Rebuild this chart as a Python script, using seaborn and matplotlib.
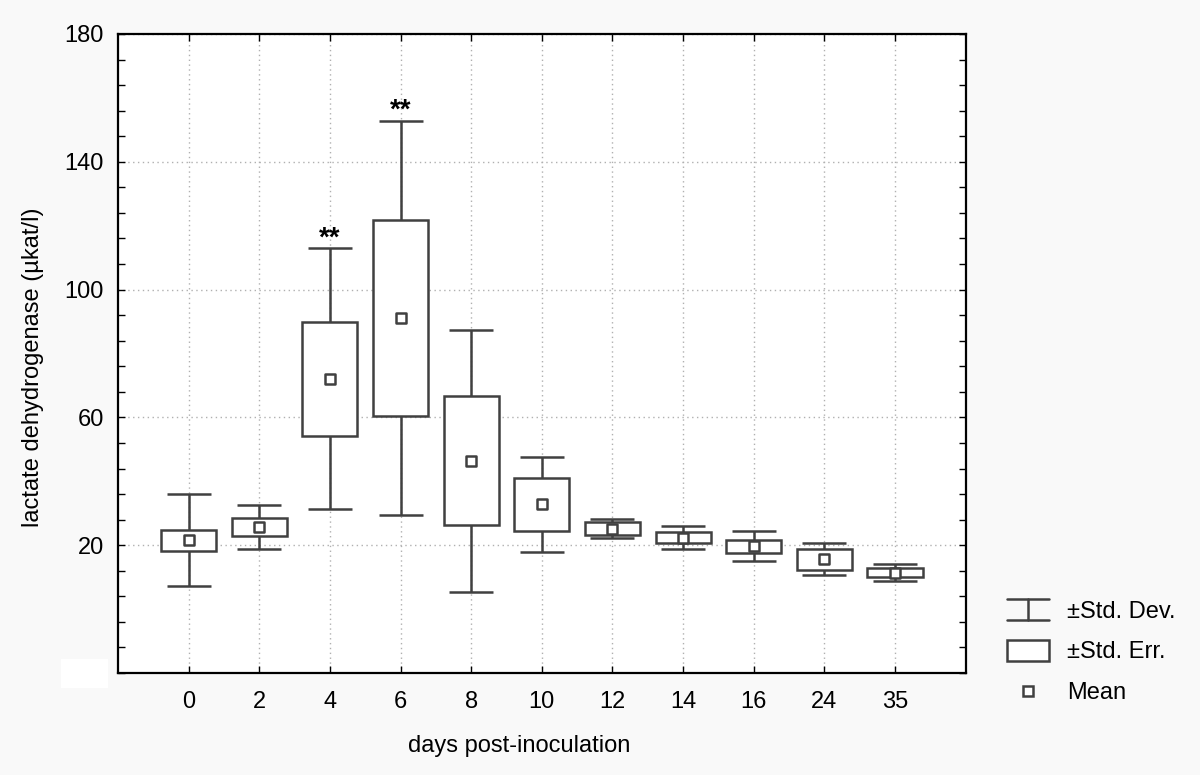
import numpy as np
import pandas as pd
import matplotlib
matplotlib.use("Agg")
import matplotlib.pyplot as plt
import seaborn as sns
from matplotlib.lines import Line2D
from matplotlib.patches import Rectangle
from matplotlib.legend_handler import HandlerBase
from matplotlib.ticker import MultipleLocator, FixedLocator

# ---- data ----
days = ["0", "2", "4", "6", "8", "10", "12", "14", "16", "24", "35"]
mean_vals = [21.6, 25.7, 72.1, 91.1, 46.5, 32.8, 25.2, 22.4, 19.7, 15.6, 11.4]
se_vals = [3.3, 2.75, 17.8, 30.6, 20.2, 8.2, 2.1, 1.75, 2.05, 3.25, 1.5]
sd_vals = [14.3, 6.9, 40.9, 61.8, 41.0, 14.8, 2.9, 3.5, 4.75, 5.05, 2.6]
significant_days = ["4", "6"]
y_major_ticks = [20, 60, 100, 140, 180]
legend_labels = ["\u00b1Std. Dev.", "\u00b1Std. Err.", "Mean"]

LINE_C = "#404040"
LW = 1.8
FS = 17

sns.set_style("white")
plt.rcParams["font.family"] = ["Liberation Sans", "DejaVu Sans"]
plt.rcParams["text.color"] = "black"
plt.rcParams["axes.labelcolor"] = "black"
plt.rcParams["xtick.color"] = "black"
plt.rcParams["ytick.color"] = "black"

df = pd.DataFrame({"day": days, "mean": mean_vals, "se": se_vals, "sd": sd_vals})
df["pos"] = np.arange(len(df))

fig = plt.figure(figsize=(12, 7.75), dpi=100, facecolor="#f9f9f9")
ax = fig.add_axes([0.09833, 0.13161, 0.70633, 0.82452])
ax.set_facecolor("white")

# grid
ax.grid(True, which="major", color="#b0b0b0", linestyle=(0, (1, 2.5)), linewidth=1.0, zorder=0)
ax.set_axisbelow(True)

# SD whiskers
ax.errorbar(df["pos"], df["mean"], yerr=df["sd"], fmt="none", ecolor=LINE_C,
            elinewidth=LW, capsize=15.8, capthick=LW, zorder=2)
# SE boxes
ax.bar(df["pos"], 2 * df["se"], bottom=df["mean"] - df["se"], width=0.78,
       facecolor="white", edgecolor=LINE_C, linewidth=LW, zorder=3)
# means
sns.scatterplot(data=df, x="pos", y="mean", marker="s", s=55, facecolor="white",
                edgecolor=LINE_C, linewidth=LW, zorder=4, ax=ax, legend=False)

# significance stars
for _, r in df[df["day"].isin(significant_days)].iterrows():
    ax.text(r["pos"], r["mean"] + r["sd"] + 0.8, "**", ha="center", va="baseline",
            fontsize=20, fontweight="bold", color="black", zorder=5)

# axes setup
ax.set_xlim(-1, len(days))
ax.set_ylim(-20, 180)
ax.set_xticks(df["pos"])
ax.set_xticklabels(days)
ax.yaxis.set_major_locator(FixedLocator(y_major_ticks))
ax.yaxis.set_minor_locator(MultipleLocator(8, offset=4))
ax.tick_params(which="both", direction="in", length=5, width=1, color="black",
               top=True, right=True, bottom=True, left=True)
ax.tick_params(axis="x", which="major", labelsize=FS, pad=13, labelcolor="black")
ax.tick_params(axis="y", which="major", labelsize=FS, pad=10, labelcolor="black")
for s in ax.spines.values():
    s.set_visible(True)
    s.set_color("black")
    s.set_linewidth(1.6)

ax.set_xlabel("days post-inoculation", fontsize=FS, color="black")
ax.set_ylabel("lactate dehydrogenase (\u00b5kat/l)", fontsize=FS, color="black")
ax.xaxis.set_label_coords(0.473, -0.097)
ax.yaxis.set_label_coords(-0.0873, 0.479)


# ---- legend with custom handles ----
class SDHandler(HandlerBase):
    def create_artists(self, legend, orig_handle, xdescent, ydescent, width, height, fontsize, trans):
        x0, x1 = -xdescent, -xdescent + width
        xc = (x0 + x1) / 2
        yc = -ydescent + height / 2
        h = 7.8
        arts = [Line2D([x0, x1], [yc + h, yc + h]), Line2D([x0, x1], [yc - h, yc - h]),
                Line2D([xc, xc], [yc - h, yc + h])]
        for a in arts:
            a.set_color(LINE_C)
            a.set_linewidth(LW)
            a.set_transform(trans)
        return arts


class BoxHandler(HandlerBase):
    def create_artists(self, legend, orig_handle, xdescent, ydescent, width, height, fontsize, trans):
        x0 = -xdescent
        yc = -ydescent + height / 2
        h = 7.5
        r = Rectangle((x0, yc - h), width, 2 * h, facecolor="white", edgecolor=LINE_C,
                      linewidth=LW, transform=trans)
        return [r]


class MeanHandler(HandlerBase):
    def create_artists(self, legend, orig_handle, xdescent, ydescent, width, height, fontsize, trans):
        xc = -xdescent + width / 2
        yc = -ydescent + height / 2
        m = Line2D([xc], [yc], marker="s", markersize=6.5, markerfacecolor="white",
                   markeredgecolor=LINE_C, markeredgewidth=LW, linestyle="none", transform=trans)
        return [m]


h_sd, h_se, h_mean = Line2D([], []), Line2D([], []), Line2D([], [])
leg = fig.legend([h_sd, h_se, h_mean], legend_labels,
                 handler_map={h_sd: SDHandler(), h_se: BoxHandler(), h_mean: MeanHandler()},
                 loc="upper left", bbox_to_anchor=(1007 / 1200, 1 - 599 / 775),
                 frameon=False, fontsize=FS, borderpad=0, borderaxespad=0,
                 handlelength=1.78, handleheight=1.0, handletextpad=0.76, labelspacing=0.72)
for t in leg.get_texts():
    t.set_color("black")

# white patch at lower left (as in the reference)
fig.add_artist(Rectangle((61 / 1200, 1 - 688 / 775), 47 / 1200, 29 / 775,
                         transform=fig.transFigure, facecolor="white", edgecolor="none"))

fig.savefig("out.png", dpi=100, facecolor=fig.get_facecolor())
